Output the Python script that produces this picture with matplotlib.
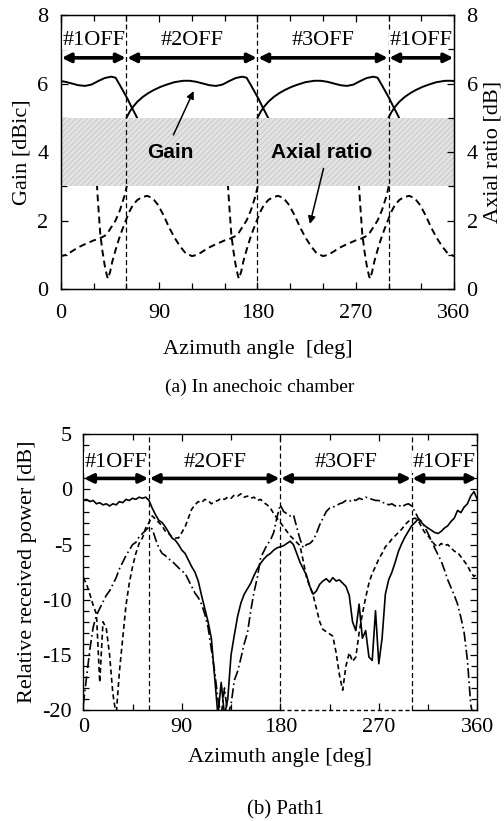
import numpy as np
import matplotlib
matplotlib.use("Agg")
import matplotlib.pyplot as plt
from matplotlib.ticker import MultipleLocator

plt.rcParams['font.family'] = ['Liberation Serif', 'DejaVu Serif']
plt.rcParams['axes.unicode_minus'] = False

# ---------------- sectors ----------------
sector_edges = [0, 60, 180, 300, 360]
sector_labels = ['#1OFF', '#2OFF', '#3OFF', '#1OFF']
sector_starts = [-60, 60, 180, 300]      # start angle of each "element OFF" sector

# ---------------- (a) anechoic chamber: one sector pattern ----------------
gain_offset = [-4, 0, 3, 6, 10, 15, 20, 25, 31, 37, 44, 52, 58, 64, 70, 76, 82,
               88, 94, 100, 106, 110, 114, 118, 121, 124, 127, 130, 134]
gain_value = [4.6, 5.0, 5.18, 5.32, 5.47, 5.61, 5.72, 5.81, 5.9, 5.97, 6.04, 6.08,
              6.08, 6.05, 6.0, 5.95, 5.93, 5.97, 6.07, 6.16, 6.2, 6.17, 5.95, 5.72,
              5.55, 5.35, 5.17, 4.98, 4.7]

ar_offset = [-29, -27, -26, -24, -22, -20, -18, -17, -15, -13, -10, -7, -4, 0, 3, 6,
             10, 14, 19, 24, 29, 34, 39, 44, 49, 54, 60, 65, 70, 75, 80, 85, 90,
             95, 100, 103, 106, 110, 114, 118, 121, 123]
ar_value = [3.4, 3.0, 2.5, 1.6, 1.1, 0.7, 0.4, 0.3, 0.5, 0.8, 1.14, 1.45, 1.72, 2.05,
            2.28, 2.46, 2.6, 2.68, 2.72, 2.65, 2.45, 2.15, 1.8, 1.5, 1.25, 1.05,
            0.96, 1.0, 1.1, 1.2, 1.28, 1.35, 1.42, 1.47, 1.55, 1.65, 1.8, 2.0, 2.3,
            2.7, 3.1, 3.4]

# ---------------- (b) Path1: relative received power ----------------
path_angle = np.arange(0, 361, 3)
power_solid = [
    -1.0, -0.9, -1.1, -1.0, -1.3, -1.2, -1.4, -1.3, -1.5, -1.3, -1.4, -1.1, -1.2,
    -0.9, -1.0, -0.8, -0.9, -0.7, -0.8, -0.7, -1.0, -1.7, -2.3, -2.8, -3.0, -3.4,
    -3.9, -4.4, -4.6, -5.0, -5.5, -5.8, -6.4, -7.0, -7.5, -8.3, -9.6, -10.8, -12.0,
    -13.5, -17.0, -20.5, -17.5, -20.5, -19.0, -15.0, -13.2, -11.5, -10.3, -9.5,
    -9.0, -8.5, -7.8, -7.2, -6.7, -6.3, -6.0, -5.8, -5.5, -5.3, -5.2, -5.1, -4.9,
    -4.7, -5.0, -5.8, -6.6, -7.2, -7.8, -8.8, -9.5, -9.2, -8.6, -8.3, -8.1, -8.4,
    -8.0, -8.3, -8.2, -8.5, -8.8, -9.6, -12.0, -12.8, -10.4, -13.5, -12.8, -15.2,
    -15.5, -11.0, -15.8, -13.5, -9.5, -8.2, -7.5, -6.6, -5.6, -4.9, -4.3, -3.8,
    -3.3, -3.0, -2.7, -3.0, -3.3, -3.5, -3.7, -3.9, -4.0, -3.8, -3.5, -3.3, -2.9,
    -2.6, -1.9, -2.1, -1.6, -1.3, -0.6, -0.2, -0.9]
power_dashed = [
    -8.0, -8.6, -9.5, -10.5, -11.3, -17.5, -12.0, -12.6, -15.0, -18.5, -20.5, -16.5,
    -13.5, -10.5, -8.5, -7.0, -5.8, -4.9, -4.4, -3.5, -3.0, -2.4, -2.7, -3.0, -3.3,
    -3.8, -4.0, -4.3, -4.4, -4.4, -3.9, -3.4, -2.6, -1.8, -1.4, -1.1, -1.2, -0.9,
    -1.0, -1.3, -1.1, -1.0, -0.8, -0.9, -0.7, -0.8, -0.5, -0.6, -0.4, -0.7, -0.6,
    -0.8, -0.7, -1.0, -0.9, -1.2, -1.4, -1.7, -2.2, -2.6, -3.0, -3.4, -3.8, -4.2,
    -4.5, -4.8, -5.1, -6.5, -8.0, -8.8, -9.6, -10.8, -12.0, -12.7, -12.9, -13.1,
    -13.3, -14.8, -16.8, -18.2, -16.0, -14.8, -15.6, -15.2, -13.0, -11.3, -9.8,
    -8.5, -7.6, -7.0, -6.3, -5.8, -5.2, -4.9, -4.5, -4.2, -3.9, -3.6, -3.2, -2.9,
    -2.7, -2.6, -2.8, -3.4, -3.9, -4.2, -4.6, -5.0, -5.2, -4.9, -5.1, -5.0, -5.3,
    -5.6, -5.7, -6.1, -6.5, -6.9, -7.5, -7.9, -7.6]
power_dashdot = [
    -19.5, -17.0, -14.5, -12.5, -11.4, -10.8, -10.2, -9.6, -9.2, -8.6, -8.0, -7.2,
    -6.6, -6.0, -5.5, -5.0, -4.8, -4.3, -4.0, -3.7, -3.4, -3.6, -4.5, -5.3, -5.8,
    -6.0, -6.3, -6.5, -6.8, -7.1, -7.4, -7.6, -8.2, -8.8, -9.4, -9.8, -10.4, -11.3,
    -12.5, -14.5, -16.5, -19.0, -20.5, -18.0, -20.5, -19.5, -17.3, -16.5, -15.3,
    -14.0, -13.0, -11.0, -9.3, -8.0, -6.2, -5.6, -5.0, -4.6, -3.9, -2.5, -1.4,
    -2.0, -2.2, -2.4, -2.3, -3.4, -4.5, -5.3, -5.0, -4.9, -4.6, -4.0, -3.2, -2.6,
    -2.0, -1.7, -1.6, -1.5, -1.3, -1.2, -1.0, -1.1, -0.9, -1.0, -0.8, -0.9, -0.7,
    -0.8, -0.9, -1.0, -1.0, -1.2, -1.2, -1.4, -1.3, -1.5, -1.4, -1.6, -1.4, -1.3,
    -1.5, -2.0, -2.6, -2.9, -3.4, -4.0, -4.6, -5.3, -5.9, -6.5, -7.3, -8.2, -8.9,
    -9.6, -10.4, -11.6, -13.0, -15.5, -19.5, -21.0, -21.0]

fig = plt.figure(figsize=(5.04, 8.21), dpi=100)

TICK_FS = 16
LABEL_FS = 16


def style_axis(ax):
    ax.tick_params(which='both', direction='in', top=True, labelsize=TICK_FS,
                   width=0.9)
    ax.tick_params(which='major', length=5)
    ax.tick_params(which='minor', length=4)
    for s in ax.spines.values():
        s.set_linewidth(1.0)


def sector_marks(ax, y_arrow, y_text):
    for x in sector_edges[1:-1]:
        ax.axvline(x, color='k', lw=0.9, ls=(0, (4, 2.5)), zorder=3)
    for a, b, lab in zip(sector_edges[:-1], sector_edges[1:], sector_labels):
        ax.annotate('', xy=(b, y_arrow), xytext=(a, y_arrow),
                    arrowprops=dict(arrowstyle='<|-|>', lw=2.6, color='k',
                                    mutation_scale=13, shrinkA=0.5, shrinkB=0.5),
                    zorder=4)
        ax.text((a + b) / 2, y_text, lab, ha='center', va='center',
                fontsize=16, zorder=4,
                bbox=dict(facecolor='white', edgecolor='none', pad=0.5))


# ================= (a) =================
ax1 = fig.add_axes([0.121, 0.648, 0.7798, 0.3337])
ax1.set_xlim(0, 360)
ax1.set_ylim(0, 8)
for s in sector_starts:
    ax1.plot(np.array(gain_offset) + s, gain_value, color='k', lw=1.4, zorder=2)
    ax1.plot(np.array(ar_offset) + s, ar_value, color='k', lw=1.4,
             ls=(0, (3.5, 2.2)), zorder=2)
# shaded band between 3 and 5
ax1.axhspan(3, 5, facecolor='#e3e3e3', edgecolor='#cfcfcf', hatch='//////',
            lw=0, zorder=2.5)
sector_marks(ax1, 6.75, 7.27)

ax1.xaxis.set_major_locator(MultipleLocator(90))
ax1.xaxis.set_minor_locator(MultipleLocator(30))
ax1.yaxis.set_major_locator(MultipleLocator(2))
ax1.yaxis.set_minor_locator(MultipleLocator(1))
style_axis(ax1)
ax1.tick_params(axis='x', which='both', pad=11)
ax1.tick_params(axis='y', which='both', pad=9)
ax1.set_ylabel('Gain [dBic]', fontsize=LABEL_FS, labelpad=4)
ax1.set_xlabel('Azimuth angle  [deg]', fontsize=LABEL_FS, labelpad=12)

ax1r = ax1.twinx()
ax1r.set_ylim(0, 8)
ax1r.yaxis.set_major_locator(MultipleLocator(2))
ax1r.yaxis.set_minor_locator(MultipleLocator(1))
ax1r.tick_params(which='both', direction='in', labelsize=TICK_FS, width=0.9, pad=9)
ax1r.tick_params(which='major', length=5)
ax1r.tick_params(which='minor', length=4)
ax1r.set_ylabel('Axial ratio [dB]', fontsize=LABEL_FS, labelpad=4)

bold = dict(family=['Liberation Sans', 'DejaVu Sans'], weight='bold', fontsize=15)
ax1.text(100, 4.0, 'Gain', ha='center', va='center', zorder=5, **bold)
ax1.text(239, 4.0, 'Axial ratio', ha='center', va='center', zorder=5, **bold)
ax1.annotate('', xy=(121.5, 5.78), xytext=(103, 4.5),
             arrowprops=dict(arrowstyle='-|>', color='k', lw=1.1,
                             mutation_scale=11, shrinkA=0, shrinkB=0), zorder=5)
ax1.annotate('', xy=(228, 1.9), xytext=(240.5, 3.52),
             arrowprops=dict(arrowstyle='-|>', color='k', lw=1.1,
                             mutation_scale=11, shrinkA=0, shrinkB=0), zorder=5)

fig.text(260 / 504, 1 - 387 / 821, '(a) In anechoic chamber', ha='center',
         va='center', fontsize=14)

# ================= (b) =================
ax2 = fig.add_axes([0.1653, 0.1352, 0.7817, 0.3358])
ax2.set_xlim(0, 360)
ax2.set_ylim(-20, 5)
ax2.plot(path_angle, power_solid, color='k', lw=1.2, zorder=2)
ax2.plot(path_angle, power_dashed, color='k', lw=1.2, ls=(0, (3, 2)), zorder=2)
ax2.plot(path_angle, power_dashdot, color='k', lw=1.2, ls=(0, (6, 2, 1, 2)), zorder=2)
sector_marks(ax2, 1.0, 2.45)

ax2.xaxis.set_major_locator(MultipleLocator(90))
ax2.xaxis.set_minor_locator(MultipleLocator(45))
ax2.yaxis.set_major_locator(MultipleLocator(5))
ax2.yaxis.set_minor_locator(MultipleLocator(1))
style_axis(ax2)
ax2.tick_params(which='both', right=True)
ax2.tick_params(axis='x', which='both', pad=6)
ax2.tick_params(axis='y', which='both', pad=8)
ax2.set_ylabel('Relative received power [dB]', fontsize=LABEL_FS, labelpad=4)
ax2.set_xlabel('Azimuth angle [deg]', fontsize=LABEL_FS, labelpad=8)

# bottom frame: the dashed trace lies on the floor between 180 and 300 deg
ax2.spines['bottom'].set_visible(False)
ax2.axhline(-20, xmin=0, xmax=0.5, color='k', lw=1.0, clip_on=False, zorder=5)
ax2.axhline(-20, xmin=0.5, xmax=300 / 360, color='k', lw=1.0, ls=(0, (3, 2)),
            clip_on=False, zorder=5)
ax2.axhline(-20, xmin=300 / 360, xmax=1, color='k', lw=1.0, clip_on=False, zorder=5)

fig.text(286 / 504, 1 - 810 / 821, '(b) Path1', ha='center', va='center',
         fontsize=15)

fig.savefig('out.png', dpi=100)
